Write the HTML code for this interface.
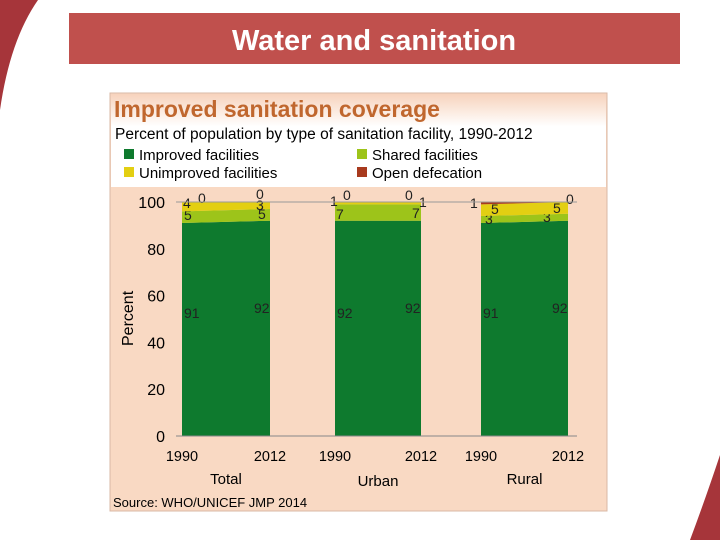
<!DOCTYPE html>
<html><head><meta charset="utf-8"><style>
body{margin:0;width:720px;height:540px;overflow:hidden;background:#fff;font-family:"Liberation Sans",sans-serif;position:relative}
</style></head><body>
<svg width="720" height="540" style="position:absolute;left:0;top:0">
<defs><linearGradient id="hg" x1="0" y1="0" x2="0" y2="1"><stop offset="0" stop-color="#f7d3bd"/><stop offset="0.35" stop-color="#fff"/><stop offset="1" stop-color="#fff"/></linearGradient></defs>
<path d="M0,0 L38,0 Q10,40 0,110 Z" fill="#a6353a"/>
<path d="M720,455 L720,540 L690,540 Q705,500 720,455 Z" fill="#a6353a"/>
<rect x="69" y="13" width="611" height="51" fill="#c0504d"/>
<text x="374" y="50" text-anchor="middle" font-size="29" font-weight="bold" fill="#fff">Water and sanitation</text>
<rect x="110" y="93" width="497" height="418" fill="#f9d9c3" stroke="#d9b8a6"/>
<rect x="111" y="94" width="495" height="93" fill="url(#hg)"/>
<text x="114" y="117" font-size="23" font-weight="bold" fill="#c0672e">Improved sanitation coverage</text>
<text x="115" y="139" font-size="15.5" fill="#000">Percent of population by type of sanitation facility, 1990-2012</text>
<rect x="124" y="149" width="10" height="10" fill="#0e7a2e"/>
<text x="139" y="160" font-size="15">Improved facilities</text>
<rect x="357" y="149" width="10" height="10" fill="#9dc41a"/>
<text x="372" y="160" font-size="15">Shared facilities</text>
<rect x="124" y="167" width="10" height="10" fill="#e3cf12"/>
<text x="139" y="178" font-size="15">Unimproved facilities</text>
<rect x="357" y="167" width="10" height="10" fill="#a83a1e"/>
<text x="372" y="178" font-size="15">Open defecation</text>
<text x="133" y="346" font-size="16" transform="rotate(-90 133 346)">Percent</text>
<text x="113" y="507" font-size="13">Source:  WHO/UNICEF JMP 2014</text>
<g id="chart"></g>
</svg>
<script>
const groups=["Total","Urban","Rural"];
const years=["1990","2012"];
const improved=[[91,92],[92,92],[91,92]];
const shared=[[5,5],[7,7],[3,3]];
const unimproved=[[4,3],[1,1],[5,5]];
const openDef=[[0,0],[0,0],[1,0]];
const yTicks=[0,20,40,60,80,100];
const NS="http://www.w3.org/2000/svg";
const g=document.getElementById('chart');
const y0=436,y100=202;
function yS(v){return y0-(y0-y100)*v/100;}
const gx=[[182,270],[335,421],[481,568]];
// label placement (layout only): [x-offset from bar edge, absolute y] per series per end
const labLayout={
 shared:[[[2,220],[-12,219]],[[1,219],[-9,218]],[[4,224],[-25,222]]],
 unimproved:[[[1,208],[-14,210]],[[-5,206],[-2,207]],[[10,214],[-15,213]]],
 open:[[[16,203],[-14,199]],[[8,200],[-16,200]],[[-11,208],[-2,204]]]
};
function mk(t,a){const e=document.createElementNS(NS,t);for(const k in a)e.setAttribute(k,a[k]);g.appendChild(e);return e;}
yTicks.forEach(t=>{const e=mk('text',{x:165,y:yS(t)+6,'text-anchor':'end','font-size':16});e.textContent=t;

});
const series=[[improved,'#0e7a2e','improved'],[shared,'#9dc41a','shared'],[unimproved,'#e3cf12','unimproved'],[openDef,'#a83a1e','open']];
groups.forEach((gn,i)=>{
 const [xa,xb]=gx[i];let base=[0,0];
 series.forEach(([arr,col,nm])=>{
  const v=arr[i];const top=[base[0]+v[0],base[1]+v[1]];
  const p=mk('polygon',{points:`${xa},${yS(base[0])} ${xb},${yS(base[1])} ${xb},${yS(top[1])} ${xa},${yS(top[0])}`,fill:col});
  
  
  [0,1].forEach(j=>{
   let tx,ty;
   if(nm==='improved'){tx=j===0?xa+2:xb-16;ty=j===0?318:313;}
   else{const L=labLayout[nm][i][j];tx=(j===0?xa:xb)+L[0];ty=L[1];}
   const t=mk('text',{x:tx,y:ty,'font-size':14,fill:'#222'});t.textContent=v[j];
   
   
  });
  base=top;
 });
 years.forEach((yr,j)=>{const t=mk('text',{x:gx[i][j],y:461,'text-anchor':'middle','font-size':14.5});t.textContent=yr;
  
  });
 const t=mk('text',{x:(xa+xb)/2,y:[484,486,484][i],'text-anchor':'middle','font-size':15});t.textContent=gn;
 
 
});
const ax=mk('line',{x1:176,y1:436,x2:577,y2:436,stroke:'#888'});


const tl=mk('line',{x1:176,y1:202,x2:577,y2:202,stroke:'#999'});


</script>
</body></html>
